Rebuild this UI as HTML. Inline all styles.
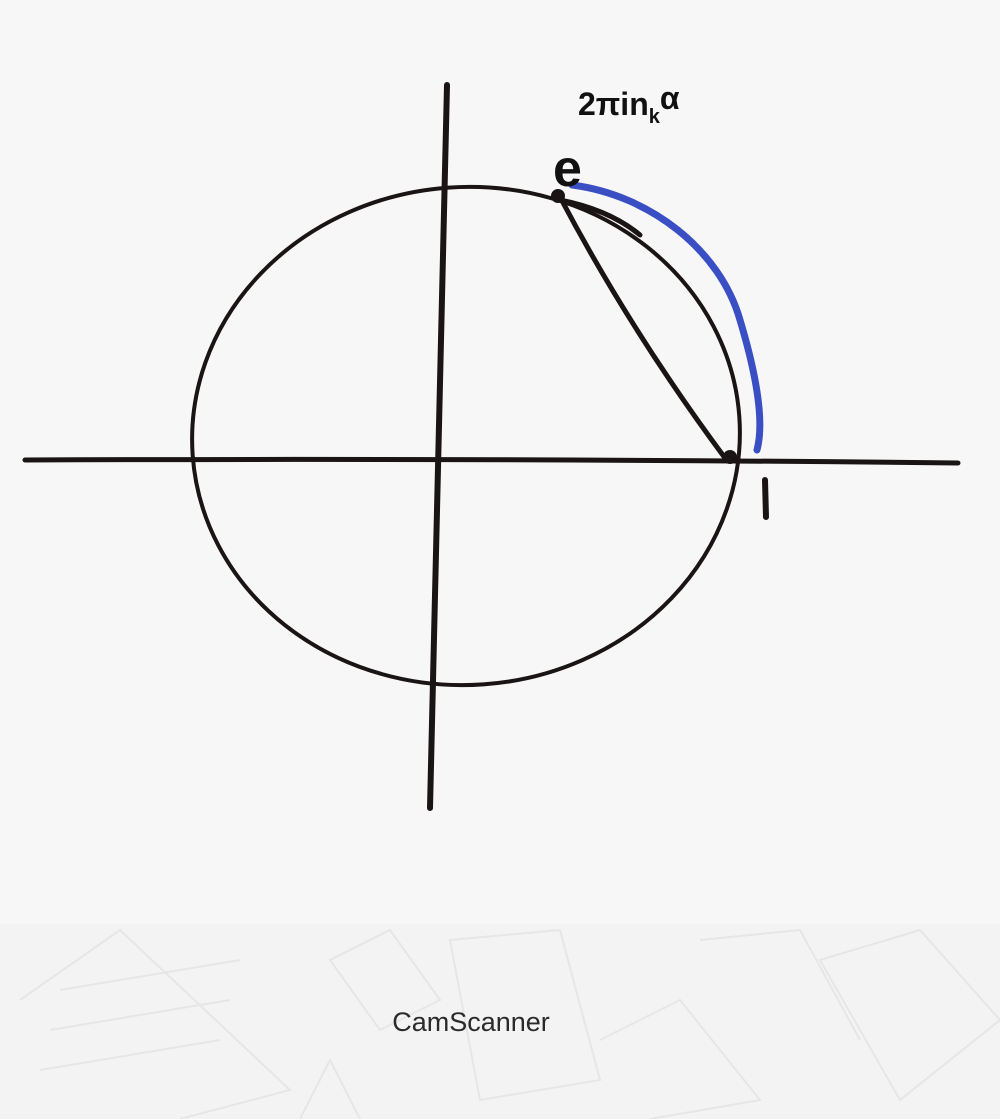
<!DOCTYPE html>
<html><head><meta charset="utf-8"><style>
html,body{margin:0;padding:0;width:1000px;height:1119px;overflow:hidden;background:#f6f6f6;}
svg{display:block}
</style></head><body>
<svg width="1000" height="1119" viewBox="0 0 1000 1119">
<rect x="0" y="0" width="1000" height="924" fill="#f7f7f7"/>
<rect x="0" y="924" width="1000" height="195" fill="#f3f3f3"/>
<g stroke="#e6e6e6" stroke-width="2" fill="none">
<path d="M20 1000 L120 930 L290 1090 L180 1119"/>
<path d="M60 990 L240 960 M50 1030 L230 1000 M40 1070 L220 1040"/>
<path d="M330 960 L390 930 L440 1000 L380 1030 Z"/>
<path d="M450 940 L560 930 L600 1080 L480 1100 Z"/>
<path d="M600 1040 L680 1000 L760 1100 L650 1119"/>
<path d="M700 940 L800 930 L860 1040"/>
<path d="M820 960 L920 930 L1000 1020 L900 1100 Z"/>
<path d="M300 1119 L330 1060 L360 1119"/>
</g>
<text x="471" y="1031" font-family="Liberation Sans, sans-serif" font-size="27" fill="#2a2a2a" text-anchor="middle">CamScanner</text>
<g stroke="#1a1414" fill="none" stroke-linecap="round">
<path d="M25 460 Q500 458 958 463" stroke-width="5"/>
<path d="M447 85 Q440 450 430 808" stroke-width="6"/>
<ellipse cx="466" cy="436" rx="274" ry="249" transform="rotate(-4 466 436)" stroke-width="4"/>
<path d="M560 197 Q630 330 725 458" stroke-width="5"/>
<path d="M560 200 Q610 210 640 235" stroke-width="5"/>
<circle cx="558" cy="196" r="7" fill="#1a1414" stroke="none"/>
<circle cx="730" cy="457" r="7" fill="#1a1414" stroke="none"/>
<path d="M572 185 C650 195 720 250 740 320 C755 370 765 420 757 450" stroke="#3a4fc4" stroke-width="7"/>
<path d="M765 480 L766 517" stroke-width="6"/>
</g>
<text x="553" y="186" font-family="Liberation Sans, sans-serif" font-weight="bold" font-size="52" fill="#111">e</text>
<text x="578" y="115" font-family="Liberation Sans, sans-serif" font-weight="bold" font-size="32" fill="#111">2πin<tspan font-size="20" dy="8">k</tspan><tspan dy="-14">α</tspan></text>
</svg>
</body></html>
